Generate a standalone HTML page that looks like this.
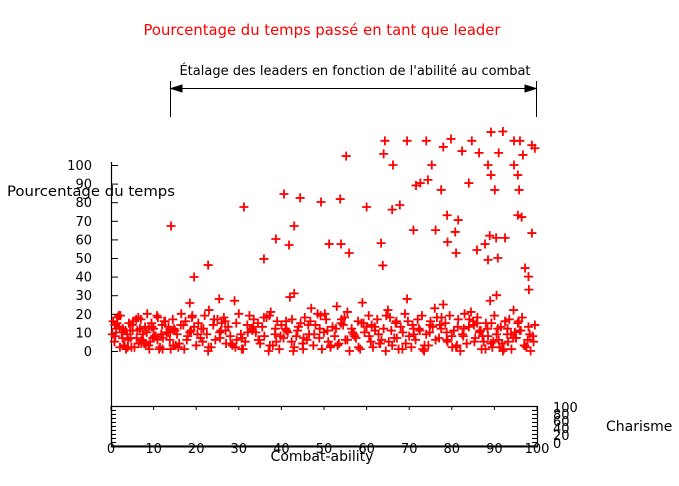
<!DOCTYPE html>
<html><head><meta charset="utf-8"><style>
html,body{margin:0;padding:0;background:#fff;}
svg{display:block;font-family:"DejaVu Sans","Liberation Sans",sans-serif;}
</style></head><body>
<svg id="chart" width="679" height="486" viewBox="0 0 679 486">
<text x="322" y="35" text-anchor="middle" font-size="14.8" fill="#ff0000">Pourcentage du temps passé en tant que leader</text>
<text x="355" y="75" text-anchor="middle" font-size="13" fill="#000">Étalage des leaders en fonction de l'abilité au combat</text>
<g stroke="#000" stroke-width="1">
<line x1="170.5" y1="81" x2="170.5" y2="117"/><line x1="536.5" y1="81" x2="536.5" y2="117"/>
<line x1="172" y1="88.5" x2="535" y2="88.5"/>
<polygon points="171,88.5 182,85 182,92" fill="#000"/><polygon points="536,88.5 525,85 525,92" fill="#000"/>
</g>
<g id="axes"></g>
<g id="points"></g>
<text x="7" y="196" font-size="14" fill="#000" textLength="168" lengthAdjust="spacingAndGlyphs">Pourcentage du temps</text>
<text x="322" y="461" text-anchor="middle" font-size="14" fill="#000">Combat-ability</text>
<text x="606" y="431" font-size="14" fill="#000">Charisme</text>
<g font-size="13" fill="#000">
<text x="553" y="412">100</text><text x="553" y="419">80</text><text x="553" y="426">60</text><text x="553" y="433">40</text><text x="553" y="440">20</text><text x="553" y="448">0</text>
</g>
</svg>
<script>
const xTicks=[0,10,20,30,40,50,60,70,80,90,100];
const yTicks=[0,10,20,30,40,50,60,70,80,90,100];
const combat=[14.1,19.5,22.8,18.5,25.4,31.2,35.9,38.7,40.6,41.8,43,44.4,43,49.3,51.2,53.8,54,55.2,55.9,60,63.4,63.8,64,64.3,66.2,66,67.8,69.5,71,71.6,72.6,74,74.4,75.3,76.2,77.5,78,78.9,79.8,79,80.8,81,81.5,82.4,84,84.7,85.9,86.4,87.8,88.5,88.5,89.2,89.2,90.1,90.4,91,92,92.5,94.6,94.6,95.5,95.5,95.8,96,96.7,97.2,98,98.1,98.8,98.8,99.5,90.8,88.9,96.4,
0.5,1,2,3,1.5,2.5,4,5,3.5,4.5,0.8,2.2,3.8,5.5,4.2,1.2,6,7,6.5,8,7.5,9,8.5,6.2,7.2,9.5,8.8,10,11,10.5,12,11.5,13,12.5,9.2,10.8,12.2,13.5,14,15,14.5,16,15.5,17,16.5,13.8,14.8,15.8,17.5,18,19,18.5,20,19.5,21,20.5,17.2,18.8,21.5,22,23,22.5,24,23.5,25,24.5,21.2,22.8,25.5,26,27,26.5,28,27.5,29,28.5,25.8,26.8,29.5,30,31,30.5,32,31.5,33,32.5,29.2,30.8,33.5,34,35,34.5,36,35.5,37,36.5,33.2,34.8,37.5,38,39,38.5,40,39.5,41,40.5,37.2,38.8,41.5,42,43,42.5,44,43.5,45,44.5,41.2,42.8,45.5,46,47,46.5,48,47.5,49,48.5,45.2,46.8,49.5,50,51,50.5,52,51.5,53,52.5,49.2,50.8,53.5,54,55,54.5,56,55.5,57,56.5,53.2,54.8,57.5,58,59,58.5,60,59.5,61,60.5,57.2,58.8,61.5,62,63,62.5,64,63.5,65,64.5,61.2,62.8,65.5,66,67,66.5,68,67.5,69,68.5,65.2,66.8,69.5,70,71,70.5,72,71.5,73,72.5,69.2,70.8,73.5,74,75,74.5,76,75.5,77,76.5,73.2,74.8,77.5,78,79,78.5,80,79.5,81,80.5,77.2,78.8,81.5,82,83,82.5,84,83.5,85,84.5,81.2,82.8,85.5,86,87,86.5,88,87.5,89,88.5,85.2,86.8,89.5,90,91,90.5,92,91.5,93,92.5,89.2,90.8,93.5,94,95,94.5,96,95.5,97,96.5,93.2,94.8,97.5,98,99,98.5,99.5,97.8,96.2,92.2,1.8,3.2,5.2,7.8,9.8,11.8,2.8,4.8,6.8,8.2,
0.3,1.4,2.7,3.9,5.1,6.4,7.6,8.9,10.2,11.3,12.7,13.9,15.2,16.4,17.8,19.1,20.3,21.7,22.9,24.2,25.6,26.9,28.1,29.4,30.7,32.1,33.4,34.6,35.9,37.3,38.6,39.8,41.1,42.4,43.8,45.1,46.3,47.7,48.9,50.2,51.6,52.8,54.1,55.5,56.7,58.1,59.3,60.6,61.9,63.2,64.6,65.8,67.1,68.4,69.7,71.1,72.3,73.6,74.9,76.2,77.6,78.8,80.1,81.4,82.7,84.1,85.3,86.6,87.9,89.3,90.5,91.8,93.1,94.4,95.7,97.1,98.3,99.2,0.9,2.1,3.4,4.6,5.9,7.1,8.4,9.6,10.9,12.1,13.4,14.6,85.9,87.2,88.4,89.7,91.2,92.6,93.9,95.1,96.6,97.4];
const percent=[67.2,39.8,46.2,25.8,28,77.4,49.5,60.2,84.4,57,67.2,82.3,31,80.1,57.5,81.7,57.5,104.8,52.7,77.4,58,46,106,113,100,76,78.5,113,65,89,90.3,113,92,100,65,86.6,109.7,73,114,58.6,64,52.7,70.4,107.5,90.3,113,54.3,106.5,57.5,100,49,117.7,94.6,86.6,60.8,106.5,118,60.8,113,100,94.6,73,86.6,113,105.4,44.6,40,33,110.7,63.4,109,50,62,72,
16,8,13,3,18,10,6,14,1,11,5,19,9,2,15,12,7,17,4,13,9,1,20,11,6,15,3,12,18,8,14,2,10,16,5,19,7,13,1,11,17,4,9,14,20,6,12,2,16,8,18,10,3,13,7,15,1,11,5,19,22,9,14,2,17,6,12,0,10,15,4,18,8,13,27,3,11,16,6,20,1,9,14,5,12,19,2,7,17,10,4,15,8,13,0,18,11,6,21,3,16,9,14,1,12,7,19,5,10,29,2,17,13,8,4,15,11,0,18,6,23,9,14,3,12,20,7,16,1,10,5,17,13,2,24,8,19,11,4,15,6,14,0,21,9,12,3,18,7,16,26,1,13,10,5,19,8,15,2,11,4,17,12,6,22,0,14,9,18,3,16,7,13,1,20,10,5,15,28,8,12,2,17,6,19,11,4,14,0,9,16,3,23,13,7,18,1,10,12,25,5,15,8,19,2,11,14,6,17,0,20,9,13,4,16,21,3,12,7,18,1,10,15,5,27,8,14,11,2,19,6,30,0,13,9,16,4,12,17,1,7,22,11,15,3,18,5,10,2,13,8,0,14,6,11,1,19,3,16,4,7,9,12,2,
12,4,9,15,7,2,11,18,5,13,8,1,16,10,3,14,6,19,9,12,2,17,7,11,4,15,1,10,13,6,18,3,12,8,16,5,11,1,14,9,7,20,3,12,17,6,10,2,15,8,13,4,19,11,7,1,16,9,12,3,14,6,18,10,2,13,8,17,5,11,1,15,9,4,12,7,16,3,9,5,14,2,11,7,17,4,10,13,6,1,10,3,15,8,12,5,2,16,9,7];
const X=v=>111+v*4.26, Y=p=>351-p*1.86;
const NS='http://www.w3.org/2000/svg';
const axes=document.getElementById('axes'), pts=document.getElementById('points');
function mk(tag,attrs,parent){const e=document.createElementNS(NS,tag);for(const k in attrs)e.setAttribute(k,attrs[k]);parent.appendChild(e);return e;}
let l=mk('line',{x1:111.5,y1:162,x2:111.5,y2:447,stroke:'#000','stroke-width':1.2},axes);


let b=mk('rect',{x:111.5,y:406.5,width:426,height:39.5,fill:'none',stroke:'#000','stroke-width':1.2},axes);


let bl=mk('line',{x1:111,y1:446.5,x2:538,y2:446.5,stroke:'#000','stroke-width':2},axes);


for(let i=1;i<10;i++){const yy=406.5+i*4;mk('line',{x1:111,y1:yy,x2:116,y2:yy,stroke:'#000'},axes);mk('line',{x1:532,y1:yy,x2:537,y2:yy,stroke:'#000'},axes);}
yTicks.forEach(t=>{
 mk('line',{x1:111,y1:Y(t)+0.5,x2:118,y2:Y(t)+0.5,stroke:'#000'},axes);
 const tx=mk('text',{x:92,y:Y(t)+5,'text-anchor':'end','font-size':13,fill:'#000'},axes);
 tx.textContent=t;
 
 
});
xTicks.forEach(t=>{
 mk('line',{x1:X(t),y1:406,x2:X(t),y2:410,stroke:'#000'},axes);
 const tx=mk('text',{x:X(t),y:453,'text-anchor':'middle','font-size':13,fill:'#000'},axes);
 tx.textContent=t;
 
 
});
const n=Math.min(combat.length,percent.length);
for(let i=0;i<n;i++){
 const cx=X(combat[i]),cy=Y(percent[i]);
 const p=mk('path',{d:`M${cx-4.5} ${cy}H${cx+4.5}M${cx} ${cy-4.5}V${cy+4.5}`,stroke:'#ff0000','stroke-width':1.8,fill:'none'},pts);
 
 
}
</script>
</body></html>
